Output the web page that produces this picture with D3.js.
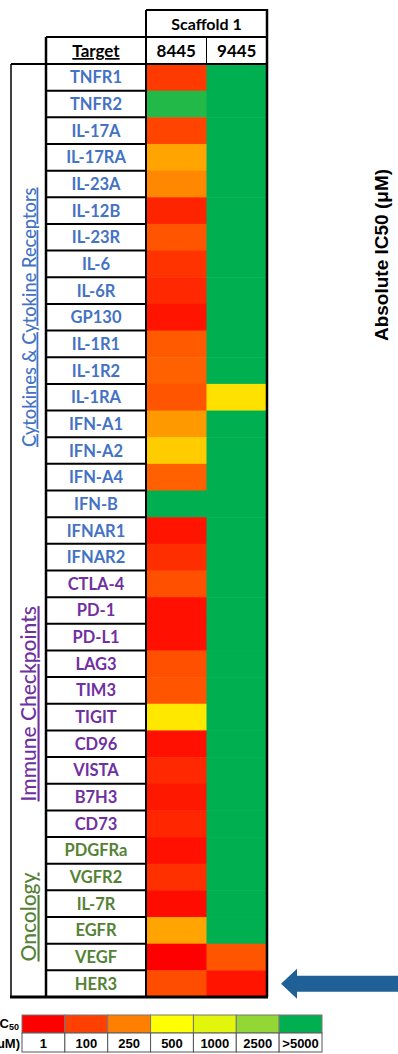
<!DOCTYPE html>
<html>
<head>
<meta charset="utf-8">
<script src="https://d3js.org/d3.v7.min.js"></script>
<style>
body { margin: 0; background: #fff; }
svg { display: block; }
.lab { font-family: Lato, "Open Sans", sans-serif; font-weight: 700; }
.leg { font-family: "Liberation Sans", Arial, sans-serif; font-weight: 700; font-size: 13px; }
</style>
</head>
<body>
<script>
// targets, top to bottom, with their group
var targets = ["TNFR1","TNFR2","IL-17A","IL-17RA","IL-23A","IL-12B","IL-23R","IL-6","IL-6R","GP130",
  "IL-1R1","IL-1R2","IL-1RA","IFN-A1","IFN-A2","IFN-A4","IFN-B","IFNAR1","IFNAR2",
  "CTLA-4","PD-1","PD-L1","LAG3","TIM3","TIGIT","CD96","VISTA","B7H3","CD73",
  "PDGFRa","VGFR2","IL-7R","EGFR","VEGF","HER3"];
var groups = [
  {name: "Cytokines & Cytokine Receptors", first: "TNFR1", last: "IFNAR2", color: "#4472C4", size: 18.3},
  {name: "Immune Checkpoints", first: "CTLA-4", last: "CD73", color: "#7030A0", size: 21},
  {name: "Oncology", first: "PDGFRa", last: "HER3", color: "#548235", size: 21}
];
var compounds = ["8445", "9445"];
// absolute IC50 (uM); 5000 means >5000
var ic50_8445 = [90,4400,110,320,265,57,150,80,63,32,
  160,175,150,300,400,175,5000,32,72,
  138,26,26,138,150,455,26,63,38,60,
  26,75,20,320,1,130];
var ic50_9445 = [5000,5000,5000,5000,5000,5000,5000,5000,5000,5000,
  5000,5000,440,5000,5000,5000,5000,5000,5000,
  5000,5000,5000,5000,5000,5000,5000,5000,5000,5000,
  5000,5000,5000,5000,150,32];
var legendValues = [1, 100, 250, 500, 1000, 2500, 5000];
var legendLabels = ["1","100","250","500","1000","2500",">5000"];
var legendColors = ["#FF0000","#FF4000","#FF8000","#FFFF00","#E2F50C","#92D734","#00B050"];

var W = 398, H = 1054;
var svg = d3.select("body").append("svg").attr("width", W).attr("height", H);

var color = d3.scaleLinear().domain(legendValues).range(legendColors).clamp(true);

var xCat = 11, xLab = 46, top1 = 10, top2 = 37, rowTop = 64, rowBot = 997;
var x = d3.scaleBand().domain(compounds).range([146, 267]);
var y = d3.scaleBand().domain(targets).range([rowTop, rowBot]);

var cells = [];
targets.forEach(function(t, i) {
  cells.push({t: t, c: "8445", v: ic50_8445[i]});
  cells.push({t: t, c: "9445", v: ic50_9445[i]});
});

svg.append("g").selectAll("rect").data(cells).enter().append("rect")
  .attr("x", function(d) { return x(d.c); })
  .attr("y", function(d) { return y(d.t); })
  .attr("width", x.bandwidth() + 0.5)
  .attr("height", y.bandwidth() + 0.5)
  .attr("fill", function(d) { return color(d.v); });

var groupOf = {};
groups.forEach(function(g) {
  var a = targets.indexOf(g.first), b = targets.indexOf(g.last);
  for (var i = a; i <= b; i++) groupOf[targets[i]] = g;
});

// target labels
svg.append("g").selectAll("text").data(targets).enter().append("text")
  .attr("class", "lab")
  .attr("x", (xLab + x.range()[0]) / 2)
  .attr("y", function(d) { return y(d) + y.bandwidth() / 2 + 6; })
  .attr("text-anchor", "middle")
  .attr("font-size", 16.5)
  .attr("fill", function(d) { return groupOf[d].color; })
  .text(function(d) { return d; });

// grid lines
var lines = svg.append("g").attr("stroke", "#000");
targets.forEach(function(t, i) {
  if (i > 0) lines.append("line").attr("x1", xLab).attr("x2", x.range()[0])
    .attr("y1", y(t)).attr("y2", y(t)).attr("stroke-width", 2);
});
function ln(x1, y1, x2, y2, w) {
  lines.append("line").attr("x1", x1).attr("y1", y1).attr("x2", x2).attr("y2", y2).attr("stroke-width", w);
}
var xr = x.range()[1];
ln(x.range()[0], top1, xr, top1, 2);
ln(xLab, top2, xr, top2, 2);
ln(xCat, rowTop, xr, rowTop, 2);
ln(xCat - 1, rowBot, xr + 1, rowBot, 3);
ln(x.range()[0], top1, x.range()[0], rowBot, 2);
ln(xr, top1 - 1, xr, rowBot, 2.5);
ln(xLab, top2, xLab, rowBot, 2.5);
ln(xCat, rowTop, xCat, rowBot, 1.5);
ln(x("9445"), top2, x("9445"), rowTop, 1);

// headers
svg.append("text").attr("class", "lab").attr("font-size", 16)
  .attr("x", (x.range()[0] + xr) / 2).attr("y", 30).attr("text-anchor", "middle").text("Scaffold 1");
svg.append("text").attr("class", "lab").attr("font-size", 17)
  .attr("x", (xLab + x.range()[0]) / 2).attr("y", 57).attr("text-anchor", "middle")
  .attr("text-decoration", "underline").text("Target");
svg.selectAll(".colhead").data(compounds).enter().append("text")
  .attr("class", "lab colhead").attr("font-size", 17)
  .attr("x", function(d) { return x(d) + x.bandwidth() / 2; }).attr("y", 57)
  .attr("text-anchor", "middle").text(function(d) { return d; });

// group labels
svg.append("g").selectAll("text").data(groups).enter().append("text")
  .attr("font-family", "Lato, 'Open Sans', sans-serif")
  .attr("font-size", function(d) { return d.size; })
  .attr("font-weight", 500)
  .attr("fill", function(d) { return d.color; })
  .attr("text-decoration", "underline")
  .attr("text-anchor", "middle")
  .attr("transform", function(d) {
    var cy = (y(d.first) + y(d.last) + y.bandwidth()) / 2;
    return "translate(35.5," + cy + ") rotate(-90)";
  })
  .text(function(d) { return d.name; });

// side title
svg.append("text").attr("font-family", "'Liberation Sans', Arial, sans-serif")
  .attr("font-weight", 700).attr("font-size", 19).attr("text-anchor", "middle")
  .attr("transform", "translate(388,255) rotate(-90)")
  .text("Absolute IC50 (\u03BCM)");

// arrow at HER3
var ay = y("HER3") + y.bandwidth() / 2;
svg.append("path").attr("fill", "#1F6197")
  .attr("d", "M281," + ay + " L297," + (ay - 15) + " L297," + (ay - 8) + " L398," + (ay - 8) +
    " L398," + (ay + 8) + " L297," + (ay + 8) + " L297," + (ay + 15) + " Z");

// legend
var lx = d3.scaleBand().domain(legendLabels).range([22, 322]);
var lg = svg.append("g");
lg.selectAll("rect.c").data(legendLabels).enter().append("rect")
  .attr("x", function(d) { return lx(d); }).attr("y", 1015)
  .attr("width", lx.bandwidth()).attr("height", 18)
  .attr("fill", function(d, i) { return legendColors[i]; })
  .attr("stroke", "#777").attr("stroke-width", 1);
lg.selectAll("rect.l").data(legendLabels).enter().append("rect")
  .attr("x", function(d) { return lx(d); }).attr("y", 1033)
  .attr("width", lx.bandwidth()).attr("height", 19)
  .attr("fill", "#fff").attr("stroke", "#555").attr("stroke-width", 1);
lg.selectAll("text.v").data(legendLabels).enter().append("text")
  .attr("class", "leg")
  .attr("x", function(d) { return lx(d) + lx.bandwidth() / 2; }).attr("y", 1047.5)
  .attr("text-anchor", "middle").text(function(d) { return d; });
var t1 = lg.append("text").attr("class", "leg").attr("x", 19).attr("y", 1028).attr("text-anchor", "end");
t1.append("tspan").text("IC");
t1.append("tspan").attr("font-size", 9).attr("dy", 2).text("50");
lg.append("text").attr("class", "leg").attr("x", 20).attr("y", 1047.5).attr("text-anchor", "end").text("(\u03BCM)");
</script>
</body>
</html>
